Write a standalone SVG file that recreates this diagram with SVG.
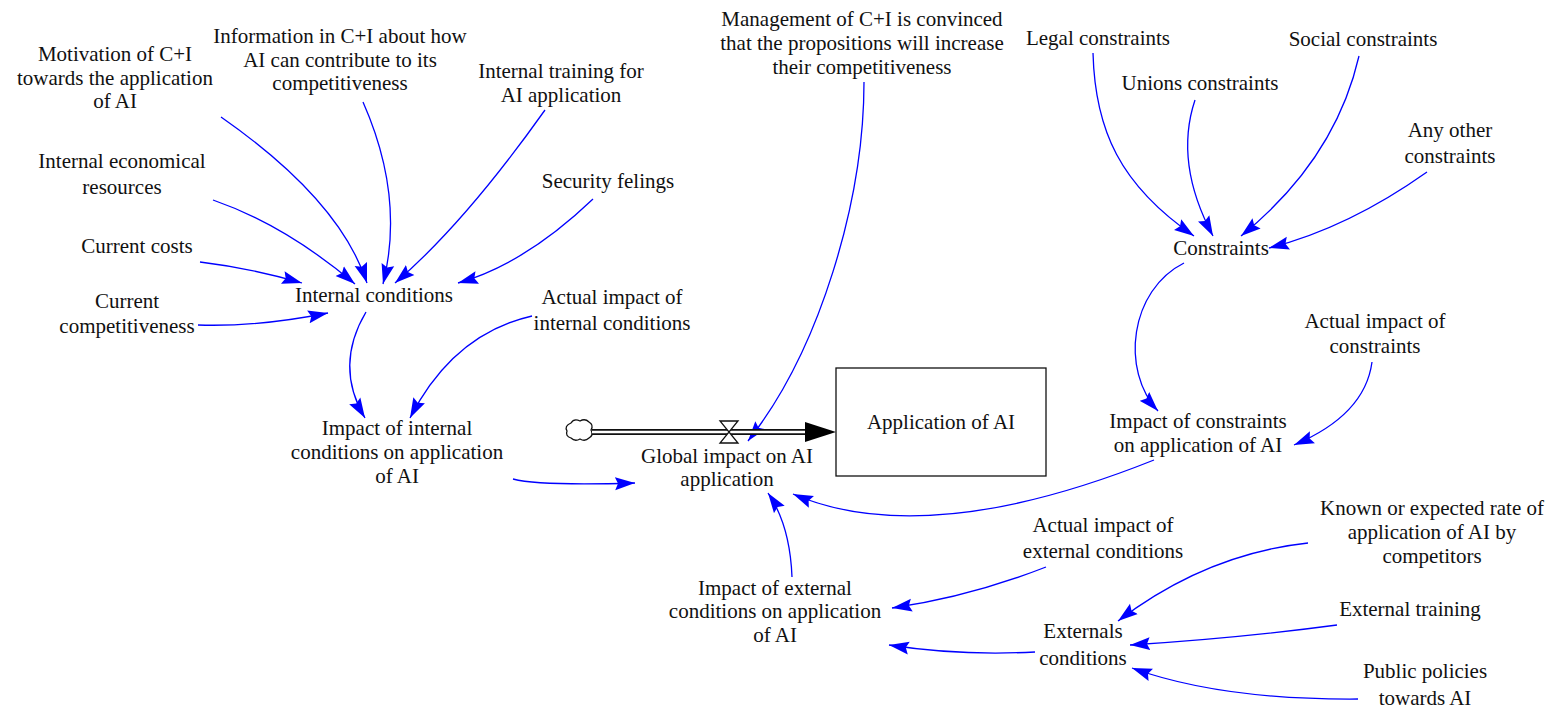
<svg xmlns="http://www.w3.org/2000/svg" width="1557" height="714" viewBox="0 0 1557 714">
  <style>
    text { font-family: "Liberation Serif", "Times New Roman", serif; font-size: 21px; fill: #111; text-anchor: middle; }
    .link { fill: none; stroke: #0000ff; stroke-width: 1.3; marker-end: url(#arrow); }
  </style>
  <defs>
    <!-- filled blue arrowhead for causal links -->
    <marker id="arrow" markerUnits="userSpaceOnUse" markerWidth="22" markerHeight="14" refX="20" refY="7" orient="auto">
      <path d="M0,0.5 L20,7 L0,13.5 L3,7 Z" fill="#0000ff"/>
    </marker>
  </defs>

  <rect width="1557" height="714" fill="#ffffff"/>

  <!-- causal links -->
  <g id="connectors">
    <path class="link" d="M221,117 Q340,200 367,283"/>
    <path class="link" d="M363,102 Q405,197 383,284"/>
    <path class="link" d="M545,110 Q464,224 395,283"/>
    <path class="link" d="M593,199 Q525,264 458,283"/>
    <path class="link" d="M200,262 Q250,268 302,283"/>
    <path class="link" d="M213,200 Q285,225 355,284"/>
    <path class="link" d="M198,325 Q258,327 328,313"/>
    <path class="link" d="M366,312 Q334,366 365,418"/>
    <path class="link" d="M532,316 Q453,334 410,418"/>
    <path class="link" d="M513,479 Q540,486 635,483"/>
    <path class="link" d="M864,82 C864,200 820,350 748,441"/>
    <path class="link" d="M1093,53 C1095,130 1120,185 1194,236"/>
    <path class="link" d="M1195,100 Q1174,163 1213,236"/>
    <path class="link" d="M1359,56 Q1335,160 1241,236"/>
    <path class="link" d="M1427,172 Q1348,228 1269,248"/>
    <path class="link" d="M1184,263 C1130,290 1120,370 1158,411"/>
    <path class="link" d="M1372,362 Q1365,415 1294,445"/>
    <path class="link" d="M1154,460 Q926,551 793,494"/>
    <path class="link" d="M792,577 Q790,525 768,493"/>
    <path class="link" d="M1046,567 Q969,597 892,608"/>
    <path class="link" d="M1035,652 Q960,656 889,645"/>
    <path class="link" d="M1308,543 Q1206,554 1118,621"/>
    <path class="link" d="M1337,625 Q1240,638 1130,645"/>
    <path class="link" d="M1358,699 Q1220,700 1132,668"/>
  </g>

  <!-- flow pipe with source cloud and valve -->
  <g id="flow-global-impact">
    <path d="M571,423 q3,-5 9,-2 q5,-3 9,1 q5,3 2,8 q3,5 -2,8 q-4,4 -9,1 q-5,3 -9,-1 q-6,-2 -4,-7 q-3,-5 4,-8 Z" fill="#fff" stroke="#111" stroke-width="1.3"/>
    <line x1="592" y1="432" x2="808" y2="432" stroke="#111" stroke-width="6"/>
    <line x1="592" y1="432" x2="808" y2="432" stroke="#fff" stroke-width="2.5"/>
    <path d="M805,422 L836,432 L805,442 Z" fill="#000"/>
    <path d="M720,421 H738 L720,443 H738 Z" fill="#fff" stroke="#111" stroke-width="1.3"/>
  </g>

  <g id="stock-application">
    <rect x="836" y="368" width="210" height="108" fill="#fff" stroke="#111" stroke-width="1.3"/>
    <text x="941" y="429">Application of AI</text>
  </g>

  <g id="global-impact"><text x="727" y="463">Global impact on AI</text><text x="727" y="486">application</text></g>

  <g id="motivation"><text x="115" y="61">Motivation of C+I</text><text x="115" y="85">towards the application</text><text x="115" y="108">of AI</text></g>
  <g id="information"><text x="340" y="43">Information in C+I about how</text><text x="340" y="67">AI can contribute to its</text><text x="340" y="90">competitiveness</text></g>
  <g id="internal-training"><text x="561" y="78">Internal training for</text><text x="561" y="102">AI application</text></g>
  <g id="management"><text x="862" y="26">Management of C+I is convinced</text><text x="862" y="50">that the propositions will increase</text><text x="862" y="74">their competitiveness</text></g>
  <g id="legal"><text x="1098" y="45">Legal constraints</text></g>
  <g id="social"><text x="1363" y="46">Social constraints</text></g>
  <g id="unions"><text x="1200" y="90">Unions constraints</text></g>
  <g id="other-constraints"><text x="1450" y="137">Any other</text><text x="1450" y="163">constraints</text></g>
  <g id="constraints"><text x="1221" y="255">Constraints</text></g>
  <g id="economical"><text x="122" y="168">Internal economical</text><text x="122" y="194">resources</text></g>
  <g id="current-costs"><text x="137" y="253">Current costs</text></g>
  <g id="current-competitiveness"><text x="127" y="308">Current</text><text x="127" y="333">competitiveness</text></g>
  <g id="internal-conditions"><text x="374" y="302">Internal conditions</text></g>
  <g id="security"><text x="608" y="188">Security felings</text></g>
  <g id="actual-internal"><text x="612" y="304">Actual impact of</text><text x="612" y="330">internal conditions</text></g>
  <g id="impact-internal"><text x="397" y="435">Impact of internal</text><text x="397" y="459">conditions on application</text><text x="397" y="483">of AI</text></g>
  <g id="impact-constraints"><text x="1198" y="428">Impact of constraints</text><text x="1198" y="452">on application of AI</text></g>
  <g id="actual-constraints"><text x="1375" y="328">Actual impact of</text><text x="1375" y="353">constraints</text></g>
  <g id="actual-external"><text x="1103" y="532">Actual impact of</text><text x="1103" y="558">external conditions</text></g>
  <g id="competitors-rate"><text x="1432" y="515">Known or expected rate of</text><text x="1432" y="539">application of AI by</text><text x="1432" y="563">competitors</text></g>
  <g id="impact-external"><text x="775" y="595">Impact of external</text><text x="775" y="618">conditions on application</text><text x="775" y="642">of AI</text></g>
  <g id="externals"><text x="1083" y="638">Externals</text><text x="1083" y="665">conditions</text></g>
  <g id="external-training"><text x="1410" y="616">External training</text></g>
  <g id="public-policies"><text x="1425" y="678">Public policies</text><text x="1425" y="705">towards AI</text></g>
</svg>
